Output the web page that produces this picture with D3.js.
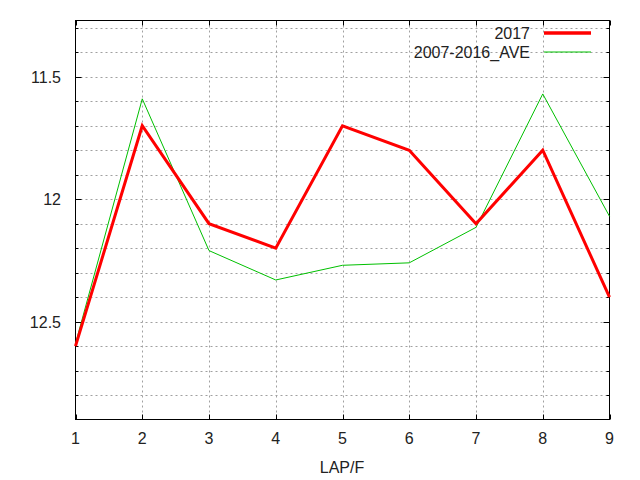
<!DOCTYPE html>
<html>
<head>
<meta charset="utf-8">
<script src="https://cdn.jsdelivr.net/npm/d3@7"></script>
<style>
  body { margin: 0; background: #fff; }
  text { font-family: "Liberation Sans", Arial, sans-serif; font-size: 16px; fill: #222; }
</style>
</head>
<body>
<svg id="svg"></svg>
<script>
const laps = [1, 2, 3, 4, 5, 6, 7, 8, 9]
const series2017 = [12.6, 11.7, 12.1, 12.2, 11.7, 11.8, 12.1, 11.8, 12.4]
const seriesAve = [12.59, 11.59, 12.21, 12.33, 12.27, 12.26, 12.115, 11.57, 12.07]
const yTickLabels = [11.5, 12, 12.5]
const yMinorTicks = d3.range(113, 129).map(v => v / 10)
const seriesNames = ["2017", "2007-2016_AVE"]

const svg = d3.select("#svg").attr("width", 640).attr("height", 480)
const plotLeft = 75.5, plotRight = 609.5, plotTop = 20.5, plotBottom = 419.5

const x = d3.scaleLinear().domain([1, 9]).range([plotLeft, plotRight])
const y = d3.scaleLinear().domain([11.27, 12.9]).range([plotTop, plotBottom])

const grid = svg.append("g")
  .attr("stroke", "#a0a0a0")
  .attr("stroke-width", 1)
  .attr("stroke-dasharray", "2,3")

grid.selectAll("line.h")
  .data(yMinorTicks)
  .enter()
  .append("line")
  .attr("x1", plotLeft).attr("x2", plotRight)
  .attr("y1", d => Math.round(y(d)) + 0.5)
  .attr("y2", d => Math.round(y(d)) + 0.5)

grid.selectAll("line.v")
  .data(laps.slice(1, -1))
  .enter()
  .append("line")
  .attr("y1", plotTop).attr("y2", plotBottom)
  .attr("x1", d => Math.round(x(d)) + 0.5)
  .attr("x2", d => Math.round(x(d)) + 0.5)

// ticks on all four sides
const ticks = svg.append("g").attr("stroke", "#000").attr("stroke-width", 1)
yMinorTicks.forEach(v => {
  const len = yTickLabels.includes(v) ? 6 : 3
  const yy = Math.round(y(v)) + 0.5
  ticks.append("line").attr("x1", plotLeft).attr("x2", plotLeft + len).attr("y1", yy).attr("y2", yy)
  ticks.append("line").attr("x1", plotRight).attr("x2", plotRight - len).attr("y1", yy).attr("y2", yy)
})
laps.forEach(v => {
  const xx = Math.round(x(v)) + 0.5
  ticks.append("line").attr("x1", xx).attr("x2", xx).attr("y1", plotBottom).attr("y2", plotBottom - 5)
  ticks.append("line").attr("x1", xx).attr("x2", xx).attr("y1", plotTop).attr("y2", plotTop + 5)
})

svg.append("rect")
  .attr("x", plotLeft).attr("y", plotTop)
  .attr("width", plotRight - plotLeft).attr("height", plotBottom - plotTop)
  .attr("fill", "none").attr("stroke", "#000").attr("stroke-width", 1)

svg.selectAll("text.ylab")
  .data(yTickLabels)
  .enter()
  .append("text")
  .attr("x", 61)
  .attr("y", d => y(d) + 6)
  .attr("text-anchor", "end")
  .text(d => d)

svg.selectAll("text.xlab")
  .data(laps)
  .enter()
  .append("text")
  .attr("x", d => x(d))
  .attr("y", 444)
  .attr("text-anchor", "middle")
  .text(d => d)

svg.append("text")
  .attr("x", 342).attr("y", 473)
  .attr("text-anchor", "middle")
  .text("LAP/F")

const line = d3.line().x((d, i) => x(laps[i])).y(d => y(d))

const plot = svg.append("g")
plot.append("path")
  .datum(seriesAve)
  .attr("d", line)
  .attr("fill", "none")
  .attr("stroke", "#00c000")
  .attr("stroke-width", 1)

plot.append("path")
  .datum(series2017)
  .attr("d", line)
  .attr("fill", "none")
  .attr("stroke", "#ff0000")
  .attr("stroke-width", 3)

// legend
const legend = svg.append("g")
const legendColors = ["#ff0000", "#00c000"]
const legendWidths = [3.5, 1]
seriesNames.forEach((name, i) => {
  const ly = 33 + i * 19
  legend.append("text")
    .attr("x", 530).attr("y", ly + 6)
    .attr("text-anchor", "end")
    .text(name)
  legend.append("line")
    .attr("x1", 544).attr("x2", 591)
    .attr("y1", ly).attr("y2", ly)
    .attr("stroke", legendColors[i])
    .attr("stroke-width", legendWidths[i])
})
</script>
</body>
</html>
